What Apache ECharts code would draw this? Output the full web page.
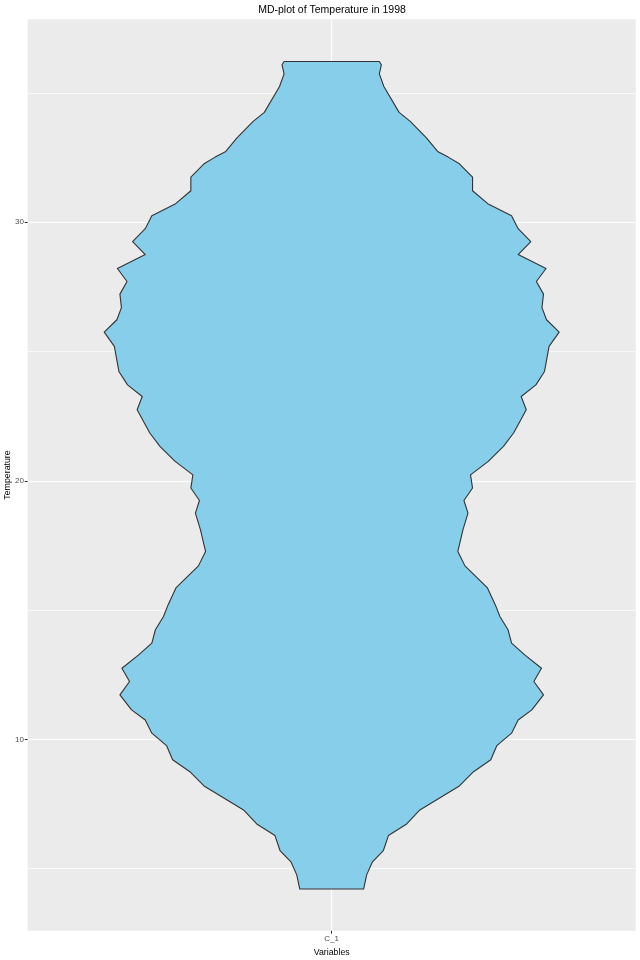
<!DOCTYPE html>
<html>
<head>
<meta charset="utf-8">
<script src="https://cdn.jsdelivr.net/npm/echarts@6/dist/echarts.min.js"></script>
<style>
html,body{margin:0;padding:0;background:#fff;}
#chart{width:640px;height:960px;}
</style>
</head>
<body>
<div id="chart"></div>
<script>
const variables = ['C_1'];
const temperature = [36.22,36.09,35.74,35.25,34.25,33.90,33.26,32.74,32.52,32.26,31.75,31.22,30.72,30.25,29.75,29.25,28.75,28.21,27.71,27.22,26.70,26.23,25.75,25.20,24.23,23.71,23.26,22.75,21.85,21.33,20.75,20.23,19.72,19.24,18.75,18.10,17.27,16.71,15.87,15.20,14.75,14.24,13.72,13.27,12.75,12.24,11.72,11.14,10.75,10.24,9.76,9.21,8.75,8.20,7.27,6.73,6.28,5.70,5.25,4.76,4.21];
const halfWidth = [0.094,0.098,0.094,0.103,0.133,0.155,0.187,0.209,0.230,0.252,0.278,0.278,0.308,0.355,0.368,0.393,0.368,0.423,0.404,0.418,0.415,0.424,0.449,0.429,0.420,0.403,0.374,0.384,0.359,0.339,0.309,0.274,0.278,0.261,0.269,0.259,0.249,0.263,0.307,0.323,0.332,0.348,0.355,0.381,0.414,0.399,0.418,0.395,0.368,0.355,0.326,0.314,0.280,0.252,0.174,0.148,0.112,0.102,0.080,0.069,0.063];
const majorTicks = [10, 20, 30];
const minorTicks = [5, 15, 25, 35];
const yRange = [2.6, 37.85];
const xRange = [0.4, 1.6];
const variablePos = 1;

const FONT = 'Liberation Sans, Arial, sans-serif';
const chart = echarts.init(document.getElementById('chart'), null, {renderer: 'canvas'});

const option = {
  animation: false,
  backgroundColor: '#ffffff',
  title: {
    text: 'MD-plot of Temperature in 1998',
    left: 332,
    textAlign: 'center',
    top: 5,
    padding: 0,
    textStyle: {fontFamily: FONT, fontSize: 10.5, fontWeight: 'normal', color: '#000000'}
  },
  grid: {
    left: 27.7, right: 4.3, top: 19.3, bottom: 29.3,
    outerBoundsMode: 'none',
    containLabel: false,
    show: true, backgroundColor: '#EBEBEB', borderWidth: 0
  },
  xAxis: {
    type: 'value',
    min: xRange[0], max: xRange[1],
    name: 'Variables',
    nameLocation: 'middle',
    nameGap: 16.5,
    nameTextStyle: {fontFamily: FONT, fontSize: 8.8, color: '#000000'},
    axisLine: {show: false},
    axisTick: {show: true, length: 3, customValues: [variablePos], lineStyle: {color: '#333333', width: 1}},
    axisLabel: {
      customValues: [variablePos], margin: 4.5,
      fontFamily: FONT, fontSize: 8, color: '#4D4D4D',
      formatter: function (v) { return Math.abs(v - variablePos) < 1e-6 ? variables[0] : ''; }
    },
    splitLine: {show: true, lineStyle: {color: '#FFFFFF', width: 1.2}}
  },
  yAxis: [{
    type: 'value',
    min: yRange[0], max: yRange[1],
    name: 'Temperature',
    nameLocation: 'middle',
    nameRotate: 90,
    nameGap: 16,
    nameMoveOverlap: false,
    nameTextStyle: {fontFamily: FONT, fontSize: 8.8, color: '#000000'},
    axisLine: {show: false},
    axisTick: {show: true, length: 3, customValues: majorTicks, lineStyle: {color: '#333333', width: 1}},
    axisLabel: {customValues: majorTicks, margin: 3.7, fontFamily: FONT, fontSize: 8, color: '#4D4D4D'},
    splitLine: {show: true, lineStyle: {color: '#FFFFFF', width: 1.2}},
    z: 1
  }, {
    type: 'value',
    min: yRange[0], max: yRange[1],
    position: 'left',
    axisLine: {show: false},
    axisTick: {show: false, customValues: minorTicks},
    axisLabel: {show: false, customValues: minorTicks},
    splitLine: {show: true, lineStyle: {color: '#FFFFFF', width: 0.7}},
    z: 0
  }],
  series: [{
    type: 'custom',
    xAxisIndex: 0,
    yAxisIndex: 0,
    data: [[variablePos, temperature[0]]],
    z: 5,
    renderItem: function (params, api) {
      const pts = [];
      for (let i = 0; i < temperature.length; i++) {
        pts.push(api.coord([variablePos - halfWidth[i], temperature[i]]));
      }
      for (let i = temperature.length - 1; i >= 0; i--) {
        pts.push(api.coord([variablePos + halfWidth[i], temperature[i]]));
      }
      return {
        type: 'polygon',
        shape: {points: pts},
        style: {fill: '#87CEEB', stroke: '#333333', lineWidth: 1.1, lineJoin: 'round'}
      };
    }
  }]
};
chart.setOption(option);
</script>
</body>
</html>
